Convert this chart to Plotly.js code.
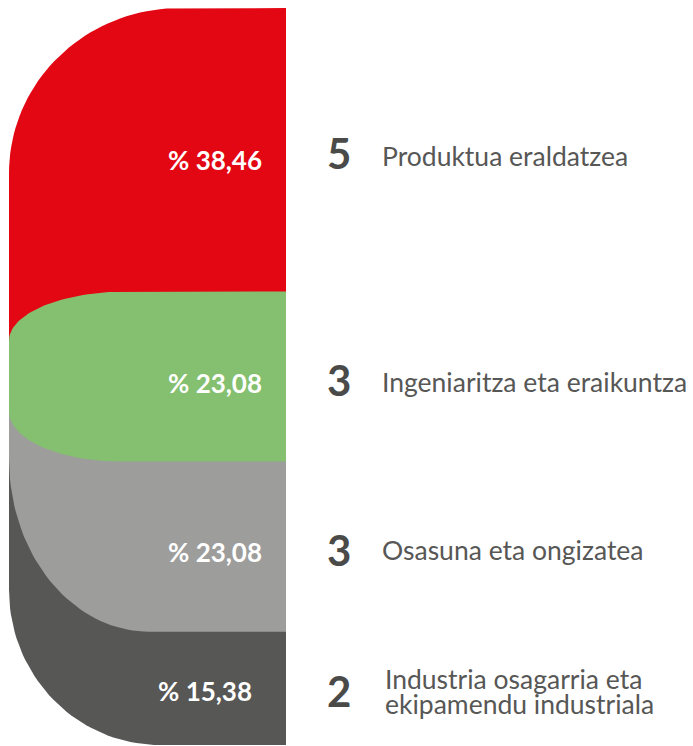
<!DOCTYPE html>
<html>
<head>
<meta charset="utf-8">
<script src="https://cdn.plot.ly/plotly-3.0.1.min.js"></script>
<style>
  html, body { margin: 0; padding: 0; background: #ffffff; }
  #chart { width: 693px; height: 746px; }
</style>
</head>
<body>
<div id="chart"></div>
<script>
// ---- data ----
const categories = ["Produktua eraldatzea", "Ingeniaritza eta eraikuntza", "Osasuna eta ongizatea", "Industria osagarria eta|ekipamendu industriala"];
const counts = [5, 3, 3, 2];
const percents = [38.46, 23.08, 23.08, 15.38];

// ---- style ----
const colors = ["#E30613", "#84C06F", "#9D9D9C", "#575756"];
const W = 693, H = 746;
const barLeftPx = 9, barRightPx = 286, topPx = 8, bottomPx = 745;
const pxPerX = barRightPx - barLeftPx;           // x axis: 0..1 across the bar
const pxPerY = (bottomPx - topPx) / 100;         // y axis: 0..100 %

// cumulative boundaries from the data
const total = percents.reduce((a, b) => a + b, 0);
const cum = [0];
percents.forEach(p => cum.push(cum[cum.length - 1] + p / total * 100));

// decorative rounded left side (corner radii in px)
function rounded(top, bottom, tl, bl) {
  const xs = [], ys = [];
  const N = 40;
  xs.push(1); ys.push(top);
  if (tl) {
    const rx = tl[0] / pxPerX, ry = tl[1] / pxPerY;
    const cx = rx, cy = top + ry;
    for (let i = 0; i <= N; i++) {
      const t = (i / N) * Math.PI / 2;
      xs.push(cx - rx * Math.sin(t)); ys.push(cy - ry * Math.cos(t));
    }
  } else { xs.push(0); ys.push(top); }
  if (bl) {
    const rx = bl[0] / pxPerX, ry = bl[1] / pxPerY;
    const cx = rx, cy = bottom - ry;
    for (let i = 0; i <= N; i++) {
      const t = (i / N) * Math.PI / 2;
      xs.push(cx - rx * Math.cos(t)); ys.push(cy + ry * Math.sin(t));
    }
  } else { xs.push(0); ys.push(bottom); }
  xs.push(1); ys.push(bottom);
  xs.push(1); ys.push(top);
  return { xs, ys };
}

const mid12 = (cum[1] + cum[2]) / 2;
const shapesDef = [
  { i: 0, top: cum[0], bottom: mid12, tl: [171, 165], bl: null },
  { i: 3, top: mid12, bottom: cum[4], tl: null, bl: [151, 155] },
  { i: 2, top: mid12, bottom: cum[3], tl: null, bl: [140, 173] },
  { i: 1, top: cum[1], bottom: cum[2], tl: [118, 49], bl: [112, 50] }
];

const traces = shapesDef.map(s => {
  const p = rounded(s.top, s.bottom, s.tl, s.bl);
  return {
    type: "scatter", mode: "lines", x: p.xs, y: p.ys,
    fill: "toself", fillcolor: colors[s.i],
    line: { color: colors[s.i], width: 0 },
    hoverinfo: "skip", showlegend: false
  };
});

const fmtPct = v => "% " + v.toFixed(2).replace(".", ",");
const pctYShift = [-10, -6, -5, -3];
const pctXShift = [0, 0, 0, -10];
const labelYShift = [-6, -5, -3, -3];

const annotations = [];
percents.forEach((v, k) => {
  const yc = (cum[k] + cum[k + 1]) / 2;
  annotations.push({
    xref: "x", yref: "y", x: (264 - barLeftPx) / pxPerX, y: yc,
    xanchor: "right", yanchor: "middle", showarrow: false,
    text: "<b>" + fmtPct(v) + "</b>", xshift: pctXShift[k], yshift: pctYShift[k],
    font: { family: "Lato", size: 26, color: "#ffffff" }
  });
  annotations.push({
    xref: "paper", yref: "y", x: 339 / W, y: yc,
    xanchor: "center", yanchor: "middle", showarrow: false,
    text: "<b>" + counts[k] + "</b>", yshift: -3,
    font: { family: "Lato", size: 42, color: "#4a4a49" }
  });
  const lines = categories[k].split("|");
  const lh = 25;
  lines.forEach((ln, j) => {
    annotations.push({
      xref: "paper", yref: "y", x: (lines.length > 1 ? 383 : 380) / W, y: yc,
      xanchor: "left", yanchor: "middle", showarrow: false,
      text: ln, yshift: labelYShift[k] - (j - (lines.length - 1) / 2) * lh,
      font: { family: "Lato", size: 26.5, color: "#575756" }
    });
  });
});

const layout = {
  width: W, height: H,
  margin: { l: 0, r: 0, t: 0, b: 0 },
  paper_bgcolor: "#ffffff", plot_bgcolor: "rgba(0,0,0,0)",
  xaxis: { domain: [barLeftPx / W, barRightPx / W], range: [0, 1], visible: false, fixedrange: true },
  yaxis: { domain: [(H - bottomPx) / H, (H - topPx) / H], range: [100, 0], visible: false, fixedrange: true },
  annotations: annotations,
  showlegend: false
};

Plotly.newPlot("chart", traces, layout, { displayModeBar: false, staticPlot: true });
</script>
</body>
</html>
